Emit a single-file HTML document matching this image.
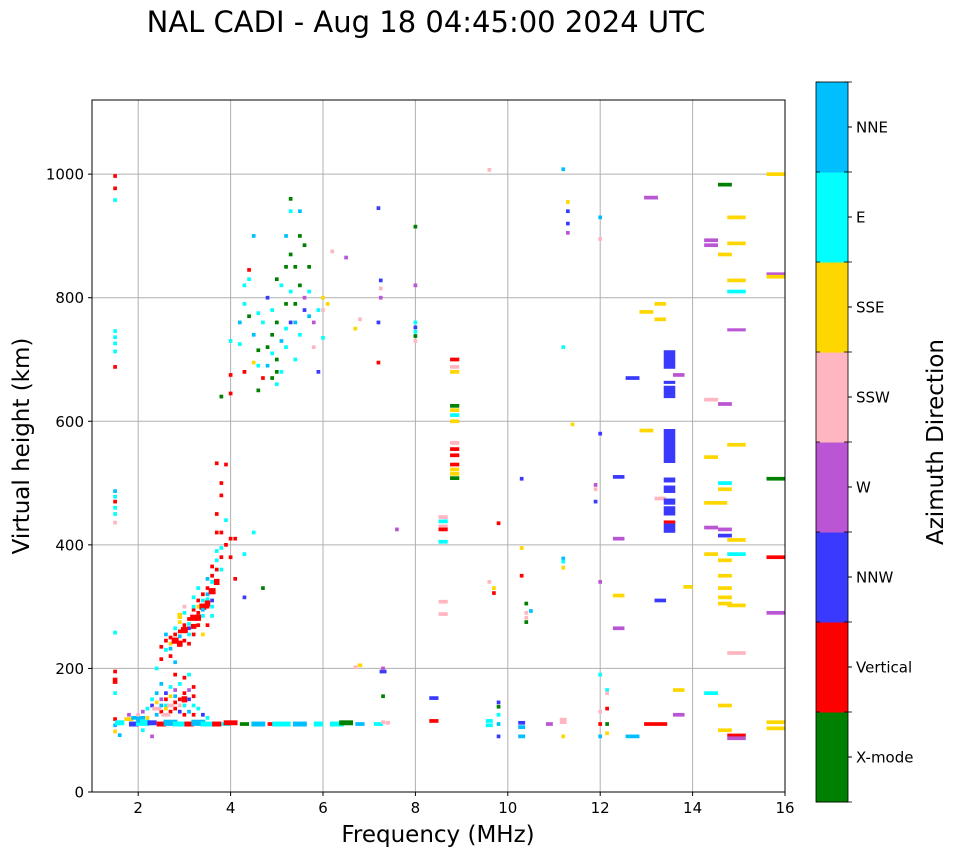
<!DOCTYPE html>
<html><head><meta charset="utf-8"><style>
html,body{margin:0;padding:0;background:#fff;}
svg{display:block;font-family:"DejaVu Sans","Liberation Sans",sans-serif;}
</style></head><body>
<svg id="chart" width="958" height="857" viewBox="0 0 958 857">
<text x="426" y="32" font-size="29" text-anchor="middle">NAL CADI - Aug 18 04:45:00 2024 UTC</text>
<g id="grid"></g>
<g id="marks"></g>
<rect x="92" y="100" width="693" height="692" fill="none" stroke="#000" stroke-width="1"/>
<g id="axes"></g>
<text x="438" y="842" font-size="23" text-anchor="middle">Frequency (MHz)</text>
<text transform="translate(29,446) rotate(-90)" font-size="23" text-anchor="middle">Virtual height (km)</text>
<g id="cbar"></g>
<text transform="translate(943,442) rotate(-90)" font-size="23" text-anchor="middle">Azimuth Direction</text>
</svg>
<script>
const directions = ["X-mode","Vertical","NNW","W","SSW","SSE","E","NNE"];
const dirColors = ["#008000","#ff0000","#3a3aff","#ba55d3","#ffb6c1","#ffd700","#00ffff","#00bfff"];
const xTicks = [2,4,6,8,10,12,14,16];
const yTicks = [0,200,400,600,800,1000];
// [freq MHz, virtual height km, direction index, freq span MHz (optional), height span km (optional)]
const echoes = [
[1.5,997,1],[1.5,977,1],[1.5,958,6],[1.5,746,6],[1.5,736,6],[1.5,726,6],[1.5,713,6],[1.5,688,1],[1.5,487,7],[1.5,478,6],[1.5,470,1],[1.5,460,6],[1.5,450,6],[1.5,436,4],[1.5,258,6],[1.5,195,1],[1.5,180,1,0.1,10],[1.5,160,6],[1.5,118,1],[1.5,108,7],[1.5,98,5],[1.6,92,7],
[1.6,112,6,0.2,8],[1.8,118,5,0.2],[1.9,110,2,0.2,8],[2.0,120,7,0.3],[2.1,112,6,0.3,10],[2.3,112,2,0.2,8],[2.5,110,1,0.2,8],[2.7,112,7,0.3,10],[2.9,110,6,0.3,8],[3.1,110,1,0.2,8],[3.3,112,7,0.3,10],[3.5,110,6,0.3,8],[3.7,110,1,0.2,8],[3.9,110,6,0.2],[4.0,112,1,0.3,8],[4.3,110,0,0.2],[4.6,110,7,0.3,8],[4.9,110,1,0.2],[5.1,110,6,0.4,8],[5.5,110,7,0.3,8],[5.9,110,6,0.2,8],[6.3,110,6,0.3,8],[6.5,112,0,0.3,8],[6.8,110,7,0.2],[7.2,110,6,0.2],[7.4,112,4,0.1],
[2.0,125,4],[2.1,130,3],[2.2,135,6],[2.3,140,2],[2.3,150,6],[2.4,145,5],[2.4,160,7],[2.5,130,1],[2.5,150,3],[2.6,140,6],[2.6,160,2],[2.7,130,1],[2.7,155,5],[2.7,170,6],[2.8,145,1],[2.8,165,3],[2.9,130,2],[2.9,150,1],[2.9,175,6],[3.0,140,6],[3.0,160,1],[3.0,185,1],[3.1,130,7],[3.1,150,2],[3.2,140,6],[3.2,125,1],[3.3,135,6],[3.4,125,2],[3.5,120,6],[2.2,120,5],[2.0,115,7],[1.8,125,3],[2.5,175,7],[2.8,190,1],[3.1,190,6],[2.4,135,4,0.2],[2.6,125,4,0.2],[2.8,135,1],[3.0,125,1],[3.2,155,1],[2.9,140,4],[2.6,150,1],[2.4,125,7],[2.1,100,6],[2.3,90,3],
[2.7,140,4,0.15],[2.8,155,7],[3.0,150,1,0.12,10],[3.1,165,3],[3.2,170,1],[2.6,135,5],[2.5,140,7],
[2.5,235,1],[2.6,245,1],[2.6,230,6],[2.7,250,1],[2.7,240,5],[2.8,255,1],[2.8,265,6],[2.9,260,1],[2.9,275,5],[3.0,270,1],[3.0,290,6],[3.1,280,1],[3.1,265,2],[3.2,295,1],[3.2,300,6],[3.3,300,5],[3.3,290,1],[3.4,310,6],[3.4,320,1],[3.5,320,7],[3.5,330,1],[3.6,340,6],[3.6,350,1],[3.7,360,1],[3.7,375,6],[3.8,380,1],[3.8,395,6],[3.9,400,1],[4.0,410,1],[4.1,410,1],[3.7,420,1],[3.7,450,1],[3.8,480,1],[3.8,500,1],[3.7,532,1],[3.9,530,1],[3.6,310,2],[3.4,285,6],[3.2,255,1],[3.0,245,1],[2.7,220,1],[2.8,210,7],[3.1,240,1],[3.3,270,1],[3.5,300,1],[3.9,440,6],[4.0,380,1],[4.1,345,1],[4.3,385,6],[4.3,315,2],[4.5,420,6],[4.7,330,0],[2.4,200,6],[2.5,215,1],[3.6,285,6],[3.5,270,1],[3.4,255,5],
[2.8,245,1,0.15,10],[2.9,252,7],[3.0,262,1,0.15,10],[3.1,272,6],[3.2,282,1,0.15,10],[3.3,310,1],[3.4,300,1,0.15,10],[3.5,312,6],[3.6,325,1,0.15,10],[3.2,315,6],[3.3,330,6],[3.5,345,7],[3.6,365,1],[3.7,390,6],[3.8,420,1],[2.9,285,5,0.1,10],[3.0,300,4],[2.7,232,7],[2.6,255,7],
[2.9,240,1,0.12,10],[3.1,255,6],[3.3,282,1,0.12,10],[3.4,295,7],[3.5,305,1,0.12,10],[3.7,340,1,0.12,10],[3.8,360,6],[3.6,300,6],[3.2,268,1,0.12,8],

[3.8,640,0],[4.0,645,1],[4.0,675,1],[4.0,730,6],[4.2,760,7],[4.3,790,6],[4.3,820,6],[4.4,845,1],[4.5,900,7],[4.4,770,0],[4.5,740,7],[4.6,715,0],[4.6,690,6],[4.7,670,1],[4.7,760,6],[4.8,720,0],[4.8,690,7],[4.8,800,2],[4.9,740,0],[4.9,710,6],[4.9,780,6],[5.0,760,0],[5.0,700,0],[5.0,830,0],[5.1,820,6],[5.1,730,7],[5.1,680,6],[5.2,850,0],[5.2,790,0],[5.2,750,6],[5.3,960,0],[5.3,940,6],[5.3,870,0],[5.3,810,6],[5.4,850,0],[5.4,790,0],[5.4,760,7],[5.5,900,0],[5.5,820,0],[5.5,740,6],[5.6,780,2],[5.6,800,3],[5.7,770,7],[5.7,850,0],[5.8,760,3],[5.9,780,6],[6.0,800,5],[6.0,780,4],[6.0,735,6],[5.9,680,2],[6.1,790,5],[5.6,885,0],[5.4,700,6],[5.2,720,6],[4.9,670,0],[4.6,650,0],[4.2,725,6],[4.4,830,6],[5.0,660,6],[5.2,900,7],[5.0,680,0],[4.5,695,5],[4.6,775,6],[5.5,940,7],[4.3,680,1],[5.7,810,6],[5.8,720,4],[6.2,875,4],[5.3,760,2],[6.5,865,3],[6.7,750,5],[6.8,765,4],

[7.2,945,2],[7.2,695,1],[7.2,760,2],[7.25,800,3],[7.25,815,4],[7.25,828,2],[7.3,195,2,0.15],[7.3,200,3],[7.3,155,0],[7.3,113,4],[6.8,205,5,0.1],[6.7,202,4],[7.6,425,3],
[8.0,915,0],[8.0,820,3],[8.0,760,6],[8.0,752,2],[8.0,745,6],[8.0,738,0],[8.0,730,4],[8.4,152,2,0.2],[8.4,115,1,0.2],
[8.6,445,4,0.2],[8.6,438,6,0.2],[8.6,430,4,0.2],[8.6,425,1,0.2],[8.6,405,6,0.2],[8.6,308,4,0.2],[8.6,288,4,0.2],
[8.85,700,1,0.2],[8.85,688,4,0.2],[8.85,680,5,0.2],[8.85,625,0,0.2],[8.85,618,5,0.2],[8.85,610,6,0.2],[8.85,600,5,0.2],[8.85,565,4,0.2],[8.85,555,1,0.2],[8.85,545,1,0.2],[8.85,530,1,0.2],[8.85,522,5,0.2],[8.85,515,5,0.2],[8.85,508,0,0.2],
[9.6,1007,4],[9.6,340,4],[9.7,330,5],[9.7,322,1],[9.6,115,6,0.15],[9.6,108,6,0.15],[9.8,145,2],[9.8,138,0],[9.8,125,6],[9.8,435,1],[9.8,110,7],[9.8,90,2],
[10.3,507,2],[10.3,395,5],[10.3,350,1],[10.4,305,0],[10.4,290,4],[10.4,282,4],[10.4,275,0],[10.5,293,7],[10.3,112,2,0.15],[10.3,105,7,0.15],[10.3,90,7,0.15],
[10.9,110,3,0.15],[11.2,1008,7],[11.2,720,6],[11.2,378,7],[11.2,373,6],[11.2,363,5],[11.2,115,4,0.15,10],[11.2,90,5],[11.3,955,5],[11.3,940,2],[11.3,920,2],[11.3,905,3],[11.4,595,5],
[12.0,930,7],[12.0,895,4],[12.0,580,2],[11.9,497,3],[11.9,490,4],[11.9,470,2],[12.0,340,3],[12.0,190,6],[12.0,130,4],[12.0,110,1],[12.0,90,7],[12.15,165,6],[12.15,160,4],[12.15,135,1],[12.15,110,0],[12.15,95,5],[12.4,410,3,0.25],[12.4,510,2,0.25],[12.4,318,5,0.25],[12.4,265,3,0.25],[12.7,670,2,0.3],[12.7,90,7,0.3],
[13.1,962,3,0.3],[13.0,777,5,0.3],[13.0,585,5,0.3],[13.2,110,1,0.5],[13.3,790,5,0.25],[13.3,765,5,0.25],[13.3,310,2,0.25],[13.3,475,4,0.25],
[13.5,700,2,0.25,30],[13.5,663,2,0.25,5],[13.5,650,2,0.25,15],[13.5,640,2,0.25,5],[13.5,560,2,0.25,55],[13.5,505,2,0.25,8],[13.5,490,2,0.25,12],[13.5,470,2,0.25,10],[13.5,455,2,0.25,15],[13.5,437,1,0.25,5],[13.5,427,2,0.25,15],
[13.7,675,3,0.25],[13.7,125,3,0.25],[13.7,165,5,0.25],[13.9,332,5,0.2],
[14.4,893,3,0.3],[14.4,885,3,0.3],[14.4,635,4,0.3],[14.4,542,5,0.3],[14.5,468,5,0.5],[14.4,428,3,0.3],[14.4,385,5,0.3,6],[14.4,160,6,0.3],
[14.7,983,0,0.3],[14.7,870,5,0.3],[14.7,628,3,0.3],[14.7,500,6,0.3],[14.7,490,5,0.3],[14.7,425,3,0.3],[14.7,415,2,0.3],[14.7,375,5,0.3],[14.7,350,5,0.3],[14.7,330,5,0.3],[14.7,315,5,0.3],[14.7,305,5,0.3,6],[14.7,140,5,0.3],[14.7,100,5,0.3],
[14.95,930,5,0.4],[14.95,888,5,0.4],[14.95,828,5,0.4],[14.95,810,6,0.4],[14.95,748,3,0.4,5],[14.95,562,5,0.4,6],[14.95,408,5,0.4],[14.95,385,6,0.4],[14.95,302,5,0.4,6],[14.95,225,4,0.4],[14.95,92,1,0.4,5],[14.95,87,3,0.4],
[15.8,1000,5,0.4],[15.8,838,3,0.4],[15.8,834,5,0.4],[15.8,507,0,0.4],[15.8,380,1,0.4],[15.8,290,3,0.4],[15.8,113,5,0.4],[15.8,103,5,0.4,6]
];
const NS="http://www.w3.org/2000/svg";
const X0=92,X1=785,Y0=792,Y1=100,FMIN=1,FMAX=16,HMAX=1120;
function xs(f){return X0+(f-FMIN)/(FMAX-FMIN)*(X1-X0);}
function ys(h){return Y0-h/HMAX*(Y0-Y1);}
function mk(tag,attrs,parent){const e=document.createElementNS(NS,tag);for(const k in attrs)e.setAttribute(k,attrs[k]);parent.appendChild(e);return e;}
const grid=document.getElementById('grid'),axes=document.getElementById('axes'),marks=document.getElementById('marks'),cbar=document.getElementById('cbar');
xTicks.forEach(t=>{
  const l=mk('line',{x1:xs(t),x2:xs(t),y1:Y1,y2:Y0,stroke:'#b0b0b0','stroke-width':1},grid);
  
  
  mk('line',{x1:xs(t),x2:xs(t),y1:Y0,y2:Y0+4,stroke:'#000'},axes);
  const tx=mk('text',{x:xs(t),y:Y0+21,'font-size':15,'text-anchor':'middle'},axes);
  tx.textContent=t;
  
  
});
yTicks.forEach(t=>{
  const l=mk('line',{x1:X0,x2:X1,y1:ys(t),y2:ys(t),stroke:'#b0b0b0','stroke-width':1},grid);
  
  
  mk('line',{x1:X0-4,x2:X0,y1:ys(t),y2:ys(t),stroke:'#000'},axes);
  const tx=mk('text',{x:X0-8,y:ys(t)+5.5,'font-size':15,'text-anchor':'end'},axes);
  tx.textContent=t;
  
  
});
echoes.forEach(e=>{
  const f=e[0],h=e[1],d=e[2],fw=e[3]||0.08,hh=e[4]||6;
  const x=xs(f-fw/2),w=xs(f+fw/2)-x,y=ys(h+hh/2),ht=ys(h-hh/2)-y;
  const r=mk('rect',{x:x,y:y,width:w,height:Math.max(ht,2.5),fill:dirColors[d]},marks);
  
  
});
const CB0=82,CB1=802,CX=816,CW=32,n=directions.length,bh=(CB1-CB0)/n;
directions.forEach((name,i)=>{
  const y=CB1-(i+1)*bh;
  const r=mk('rect',{x:CX,y:y,width:CW,height:bh+0.5,fill:dirColors[i]},cbar);
  
  
  mk('line',{x1:CX+CW,x2:CX+CW+4,y1:y+bh/2,y2:y+bh/2,stroke:'#000'},cbar);
  const t=mk('text',{x:CX+CW+8,y:y+bh/2+5.5,'font-size':15},cbar);
  t.textContent=name;
  
  
});
for(let i=0;i<=n;i++){mk('line',{x1:CX,x2:CX+4,y1:CB0+i*bh,y2:CB0+i*bh,stroke:'#000','stroke-width':0.8},cbar);mk('line',{x1:CX+CW-4,x2:CX+CW+4,y1:CB0+i*bh,y2:CB0+i*bh,stroke:'#000','stroke-width':0.8},cbar);}
mk('rect',{x:CX,y:CB0,width:CW,height:CB1-CB0,fill:'none',stroke:'#000','stroke-width':0.8},cbar);
</script>
</body></html>
